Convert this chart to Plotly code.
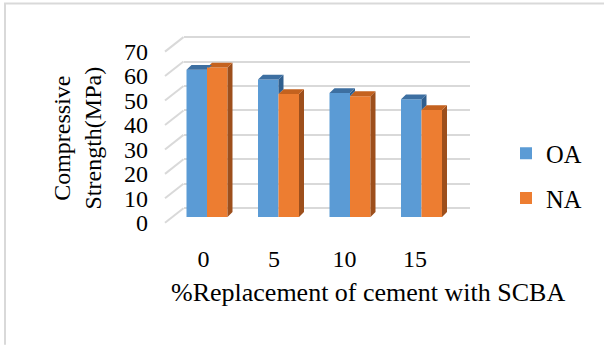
import plotly.graph_objects as go

# ---- data -------------------------------------------------------------
categories = ["0", "5", "10", "15"]          # % replacement of cement with SCBA
oa_values = [60.2, 56.2, 50.7, 48.1]         # OA compressive strength (MPa)
na_values = [61.1, 50.3, 49.4, 43.7]         # NA compressive strength (MPa)
value_ticks = [0, 10, 20, 30, 40, 50, 60, 70]

# ---- geometry helpers (pixel layout of a 604 x 349 canvas) -------------
W, H = 604, 349
PX_PER_MPA = 2.524            # vertical scale shared by every plane
X = lambda px: px / W
Y = lambda py: 1 - py / H


def ydomain(py_zero, vmin, vmax):
    """Domain for a value axis whose zero sits at pixel row py_zero."""
    return [Y(py_zero - PX_PER_MPA * vmin), Y(py_zero - PX_PER_MPA * vmax)]


FONT = "Liberation Serif"
GRID = "#d9d9d9"

BACK_ZERO, BAR_ZERO, FRONT_ZERO = 215, 224, 230   # zero rows of back wall, bars, front labels
WALL_LEFT, WALL_RIGHT, FRONT_LEFT = 183.5, 470, 165
V_MIN, V_MAX = -1, 75

positions = list(range(len(categories)))
bar_w = 0.2867                 # width of one bar in category units
dx = 5 / 71.5                  # depth offset, category units
dy = 5 / PX_PER_MPA            # depth offset, MPa units

colors = {
    "OA": dict(front="#5b9bd5", top="#3d6fa1", side="#305f8e"),
    "NA": dict(front="#ed7d31", top="#c4621f", side="#9d4f1c"),
}

fig = go.Figure()

# back wall grid (primary subplot, drawn beneath the bars)
fig.add_trace(go.Scatter(x=[], y=[], xaxis="x", yaxis="y", showlegend=False, hoverinfo="skip"))

# front faces of the columns
for name, vals, off in (("OA", oa_values, -bar_w), ("NA", na_values, 0.0)):
    fig.add_trace(go.Bar(
        x=positions, y=vals, width=bar_w, offset=off, name=name,
        legendgroup=name, marker=dict(color=colors[name]["front"], line=dict(width=0)),
        xaxis="x2", yaxis="y2", hoverinfo="skip",
    ))


def poly_trace(xs, ys, color):
    return go.Scatter(x=xs, y=ys, mode="lines", fill="toself", fillcolor=color,
                      line=dict(width=0, color=color), xaxis="x2", yaxis="y2",
                      showlegend=False, hoverinfo="skip", connectgaps=False)


# depth faces: NA (right bar) fully visible, OA clipped where NA stands in front
na_top_x, na_top_y, na_side_x, na_side_y = [], [], [], []
oa_top_x, oa_top_y, oa_side_x, oa_side_y = [], [], [], []
for p, vb, vo in zip(positions, oa_values, na_values):
    # NA column spans [p, p + bar_w]
    x0, x1 = p, p + bar_w
    na_top_x += [x0, x1, x1 + dx, x0 + dx, None]
    na_top_y += [vo, vo, vo + dy, vo + dy, None]
    na_side_x += [x1, x1 + dx, x1 + dx, x1, None]
    na_side_y += [0, dy, vo + dy, vo, None]

    # OA column spans [p - bar_w, p]
    x0, x1 = p - bar_w, p
    c = min(max(vo, vb), vb + dy)
    t = (c - vb) / dy
    oa_top_x += [x0, x1, x1, x1 + dx * t, x1 + dx, x0 + dx, None]
    oa_top_y += [vb, vb, c, c, vb + dy, vb + dy, None]
    if vb > vo:
        oa_side_x += [x1, x1 + dx, x1 + dx, x1, None]
        oa_side_y += [vo, vo + dy, vb + dy, vb, None]

fig.add_trace(poly_trace(na_side_x, na_side_y, colors["NA"]["side"]))
fig.add_trace(poly_trace(na_top_x, na_top_y, colors["NA"]["top"]))
fig.add_trace(poly_trace(oa_side_x, oa_side_y, colors["OA"]["side"]))
fig.add_trace(poly_trace(oa_top_x, oa_top_y, colors["OA"]["top"]))

# front label plane
fig.add_trace(go.Scatter(x=[], y=[], xaxis="x3", yaxis="y3", showlegend=False, hoverinfo="skip"))

# receding gridlines joining the front labels to the back wall
shapes = []
for v in value_ticks:
    shapes.append(dict(type="line", xref="paper", yref="paper", layer="below",
                       x0=X(FRONT_LEFT), y0=Y(FRONT_ZERO - PX_PER_MPA * v),
                       x1=X(WALL_LEFT), y1=Y(BACK_ZERO - PX_PER_MPA * v),
                       line=dict(color=GRID, width=2)))
# chart frame
shapes.append(dict(type="line", xref="paper", yref="paper", x0=X(4), x1=1.02,
                   y0=Y(3.5), y1=Y(3.5), line=dict(color=GRID, width=2)))
shapes.append(dict(type="line", xref="paper", yref="paper", x0=X(5), x1=X(5),
                   y0=Y(3.5), y1=-0.02, line=dict(color=GRID, width=2)))

hidden = dict(showgrid=False, zeroline=False, showline=False, showticklabels=False, ticks="")

fig.update_layout(
    width=W, height=H, autosize=False,
    margin=dict(l=0, r=0, t=0, b=0),
    paper_bgcolor="white", plot_bgcolor="rgba(0,0,0,0)",
    font=dict(family=FONT, size=24, color="#000000"),
    barmode="overlay",
    showlegend=True,
    legend=dict(x=X(506), y=Y(135), xanchor="left", yanchor="top",
                traceorder="grouped", tracegroupgap=10,
                font=dict(family=FONT, size=24.5, color="#000000"),
                bgcolor="rgba(0,0,0,0)"),
    xaxis=dict(domain=[X(WALL_LEFT), X(WALL_RIGHT)], range=[0, 1], anchor="y", **hidden),
    yaxis=dict(domain=ydomain(BACK_ZERO, V_MIN, V_MAX), range=[V_MIN, V_MAX], anchor="x",
               showgrid=True, gridcolor=GRID, gridwidth=2, tick0=0, dtick=10,
               zeroline=False, showline=False, showticklabels=False, ticks=""),
    xaxis2=dict(domain=[X(171.25), X(457.25)], range=[-0.5, 3.5], anchor="y2", **hidden),
    yaxis2=dict(domain=ydomain(BAR_ZERO, 0, V_MAX), range=[0, V_MAX], anchor="x2", **hidden),
    xaxis3=dict(domain=[X(168.25), X(450.25)], range=[-0.5, 3.5], anchor="free",
                position=Y(250), tickmode="array", tickvals=positions, ticktext=categories,
                showgrid=False, zeroline=False, showline=False, ticks="",
                tickfont=dict(family=FONT, size=24, color="#000000")),
    yaxis3=dict(domain=ydomain(FRONT_ZERO, V_MIN, V_MAX), range=[V_MIN, V_MAX], anchor="free",
                position=X(148), side="left", tickmode="array", tickvals=value_ticks,
                showgrid=False, zeroline=False, showline=False, ticks="",
                tickfont=dict(family=FONT, size=24, color="#000000")),
    shapes=shapes,
    annotations=[
        dict(text="Compressive<br>Strength(MPa)", textangle=-90, xref="paper", yref="paper",
             x=X(77), y=Y(143), xanchor="center", yanchor="middle", showarrow=False,
             font=dict(family=FONT, size=24, color="#000000")),
        dict(text="%Replacement of cement with SCBA", xref="paper", yref="paper",
             x=X(367.5), y=Y(302), xanchor="center", yanchor="middle", showarrow=False,
             font=dict(family=FONT, size=26, color="#000000")),
    ],
)

fig.write_html("out.html")
